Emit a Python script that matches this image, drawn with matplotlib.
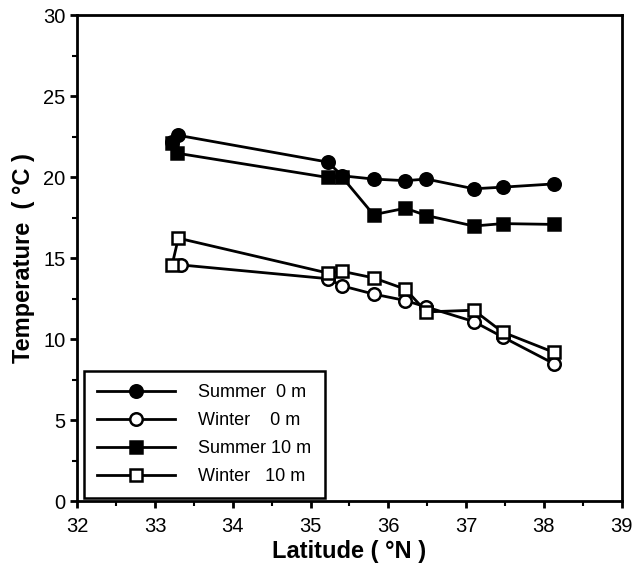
import numpy as np
import matplotlib.pyplot as plt
from matplotlib.ticker import MultipleLocator

plt.rcParams['font.family'] = ['Liberation Sans', 'DejaVu Sans']

# Surface (0 m) and 10 m water temperatures along the latitude transect
lat_summer_0 = [33.22, 33.30, 35.22, 35.41, 35.81, 36.22, 36.49, 37.10, 37.47, 38.13]
temp_summer_0 = [22.2, 22.6, 20.95, 20.1, 19.9, 19.8, 19.9, 19.3, 19.4, 19.6]

lat_winter_0 = [33.33, 35.22, 35.41, 35.81, 36.22, 36.49, 37.10, 37.47, 38.13]
temp_winter_0 = [14.6, 13.75, 13.3, 12.8, 12.4, 12.0, 11.1, 10.15, 8.5]

lat_summer_10 = [33.22, 33.28, 35.22, 35.41, 35.81, 36.22, 36.49, 37.10, 37.47, 38.13]
temp_summer_10 = [22.1, 21.5, 20.0, 20.0, 17.7, 18.1, 17.65, 17.0, 17.15, 17.1]

lat_winter_10 = [33.22, 33.30, 35.22, 35.41, 35.81, 36.22, 36.49, 37.10, 37.47, 38.13]
temp_winter_10 = [14.6, 16.25, 14.1, 14.2, 13.8, 13.1, 11.7, 11.8, 10.45, 9.2]

fig = plt.figure(figsize=(6.33, 5.73), dpi=100)
ax = fig.add_axes([0.122, 0.125, 0.860, 0.848])

style = dict(color='black', linewidth=2.0, markersize=9, markeredgewidth=1.8,
             markeredgecolor='black')
ax.plot(lat_summer_0, temp_summer_0, marker='o', markerfacecolor='black',
        label='Summer  0 m', zorder=3, **style)
ax.plot(lat_winter_0, temp_winter_0, marker='o', markerfacecolor='white',
        label='Winter    0 m', zorder=3, **style)
ax.plot(lat_summer_10, temp_summer_10, marker='s', markerfacecolor='black',
        label='Summer 10 m', zorder=4, **style)
ax.plot(lat_winter_10, temp_winter_10, marker='s', markerfacecolor='white',
        label='Winter   10 m', zorder=4, **style)

ax.set_xlim(32, 39)
ax.set_ylim(0, 30)
ax.xaxis.set_major_locator(MultipleLocator(1))
ax.xaxis.set_minor_locator(MultipleLocator(0.5))
ax.yaxis.set_major_locator(MultipleLocator(5))
ax.yaxis.set_minor_locator(MultipleLocator(2.5))
ax.tick_params(which='major', direction='out', length=5, width=2, labelsize=14.5)
ax.tick_params(axis='x', which='major', pad=6)
ax.tick_params(which='minor', direction='out', length=3.5, width=1.5)
for sp in ax.spines.values():
    sp.set_linewidth(2)

ax.set_xlabel('Latitude ( °N )', fontsize=17, fontweight='bold', labelpad=3)
ax.set_ylabel('Temperature  ( °C )', fontsize=17, fontweight='bold', labelpad=6)

leg = ax.legend(loc='lower left', bbox_to_anchor=(0.012, 0.006), fontsize=13,
                handlelength=4.3, handletextpad=1.3, labelspacing=0.6,
                borderpad=0.75, fancybox=False, framealpha=1, edgecolor='black',
                borderaxespad=0)
leg.get_frame().set_linewidth(1.8)

fig.savefig('out.png', dpi=100)
